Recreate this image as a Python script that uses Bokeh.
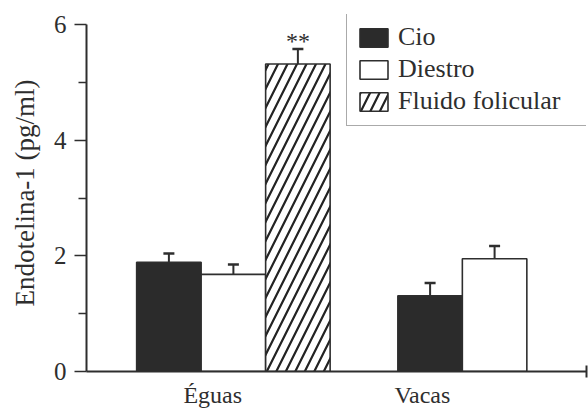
from bokeh.plotting import figure
from bokeh.models import (ColumnDataSource, Range1d, FixedTicker, Legend, LegendItem,
                          Whisker, TeeHead)
from bokeh.core.properties import value
from bokeh.embed import file_html
from bokeh.resources import INLINE

# ---- data ----
groups = ["Éguas", "Vacas"]
series = ["Cio", "Diestro", "Fluido folicular"]
eguas_means = [1.89, 1.68, 5.32]
eguas_err = [0.15, 0.17, 0.26]
vacas_means = [1.31, 1.95]
vacas_err = [0.22, 0.22]
signif_eguas = ["", "", "**"]
y_ticks = [0, 2, 4, 6]
y_minor = [1, 3, 5]

# ---- layout constants ----
group_base = [0.0, 4.05]
label_pos = [1.68, 4.93]
FONT = "Liberation Serif"
INK = "#2e2e2e"

p = figure(width=588, height=409, output_backend="svg", toolbar_location=None,
           x_range=Range1d(-0.2775, 7.475), y_range=Range1d(0, 6.176),
           frame_width=500, frame_height=357,
           min_border_left=86, min_border_right=2, min_border_top=14, min_border_bottom=38)
p.outline_line_color = None
p.grid.visible = False
p.background_fill_color = "white"

means = [eguas_means, vacas_means]
errs = [eguas_err, vacas_err]
fills = ["#2b2b2b", "white", "white"]
hatches = [None, None, "/"]

renderers = []
for si, name in enumerate(series):
    xs, tops, ups = [], [], []
    for gi in range(len(groups)):
        if si < len(means[gi]):
            xs.append(group_base[gi] + 1 + si)
            tops.append(means[gi][si])
            ups.append(means[gi][si] + errs[gi][si])
    src = ColumnDataSource(dict(x=xs, top=tops, upper=ups))
    w = Whisker(base="x", lower="top", upper="upper", source=src,
                line_color=INK, line_width=2, lower_head=None,
                upper_head=TeeHead(size=11, line_color=INK, line_width=2.5))
    p.add_layout(w)
    kw = {}
    if hatches[si]:
        kw = dict(hatch_pattern=hatches[si], hatch_scale=19, hatch_weight=2.2,
                  hatch_color="#222222")
    r = p.vbar(x="x", top="top", width=1.0, source=src, fill_color=fills[si],
               line_color=INK, line_width=1.6, **kw)
    renderers.append(r)

# significance marker
sx, sy, st = [], [], []
for si, s in enumerate(signif_eguas):
    if s:
        sx.append(group_base[0] + 1 + si)
        sy.append(eguas_means[si] + eguas_err[si])
        st.append(s)
p.text(x=sx, y=sy, text=st, text_font=value(FONT), text_font_size="24px",
       text_align="center", text_baseline="bottom", y_offset=5, text_color=INK)

legend = Legend(items=[LegendItem(label=n, renderers=[r]) for n, r in zip(series, renderers)],
                location=(260, 245), margin=0, padding=9, spacing=2,
                glyph_width=35, glyph_height=23, label_standoff=7, label_width=180,
                label_height=23, label_text_font=FONT, label_text_font_size="26px",
                label_text_color=INK, border_line_color="#555555", border_line_width=1.5,
                background_fill_color="white", background_fill_alpha=1.0)
p.add_layout(legend, "center")

# axes
ya = p.yaxis[0]
ya.ticker = FixedTicker(ticks=y_ticks, minor_ticks=y_minor)
ya.bounds = (0, 6)
ya.major_tick_out = 12
ya.major_tick_in = 0
ya.minor_tick_out = 8
ya.minor_tick_in = 0
ya.axis_line_width = 2
ya.axis_line_color = INK
ya.major_tick_line_color = INK
ya.major_tick_line_width = 1.5
ya.minor_tick_line_color = INK
ya.minor_tick_line_width = 1.5
ya.major_label_text_font = FONT
ya.major_label_text_font_size = "25px"
ya.major_label_text_color = INK
ya.major_label_standoff = 8
ya.axis_label = "Endotelina-1 (pg/ml)"
ya.axis_label_text_font = FONT
ya.axis_label_text_font_size = "27px"
ya.axis_label_text_font_style = "normal"
ya.axis_label_text_color = INK
ya.axis_label_standoff = 11

xa = p.xaxis[0]
xa.ticker = FixedTicker(ticks=label_pos, minor_ticks=[7.47])
xa.major_label_overrides = {pos: g for pos, g in zip(label_pos, groups)}
xa.major_tick_out = 0
xa.major_tick_in = 0
xa.minor_tick_out = 6
xa.minor_tick_in = 6
xa.minor_tick_line_color = INK
xa.minor_tick_line_width = 2
xa.axis_line_width = 2
xa.axis_line_color = INK
xa.major_label_text_font = FONT
xa.major_label_text_font_size = "24px"
xa.major_label_text_color = INK
xa.major_label_standoff = 4

open("out.html", "w").write(file_html(p, INLINE))
